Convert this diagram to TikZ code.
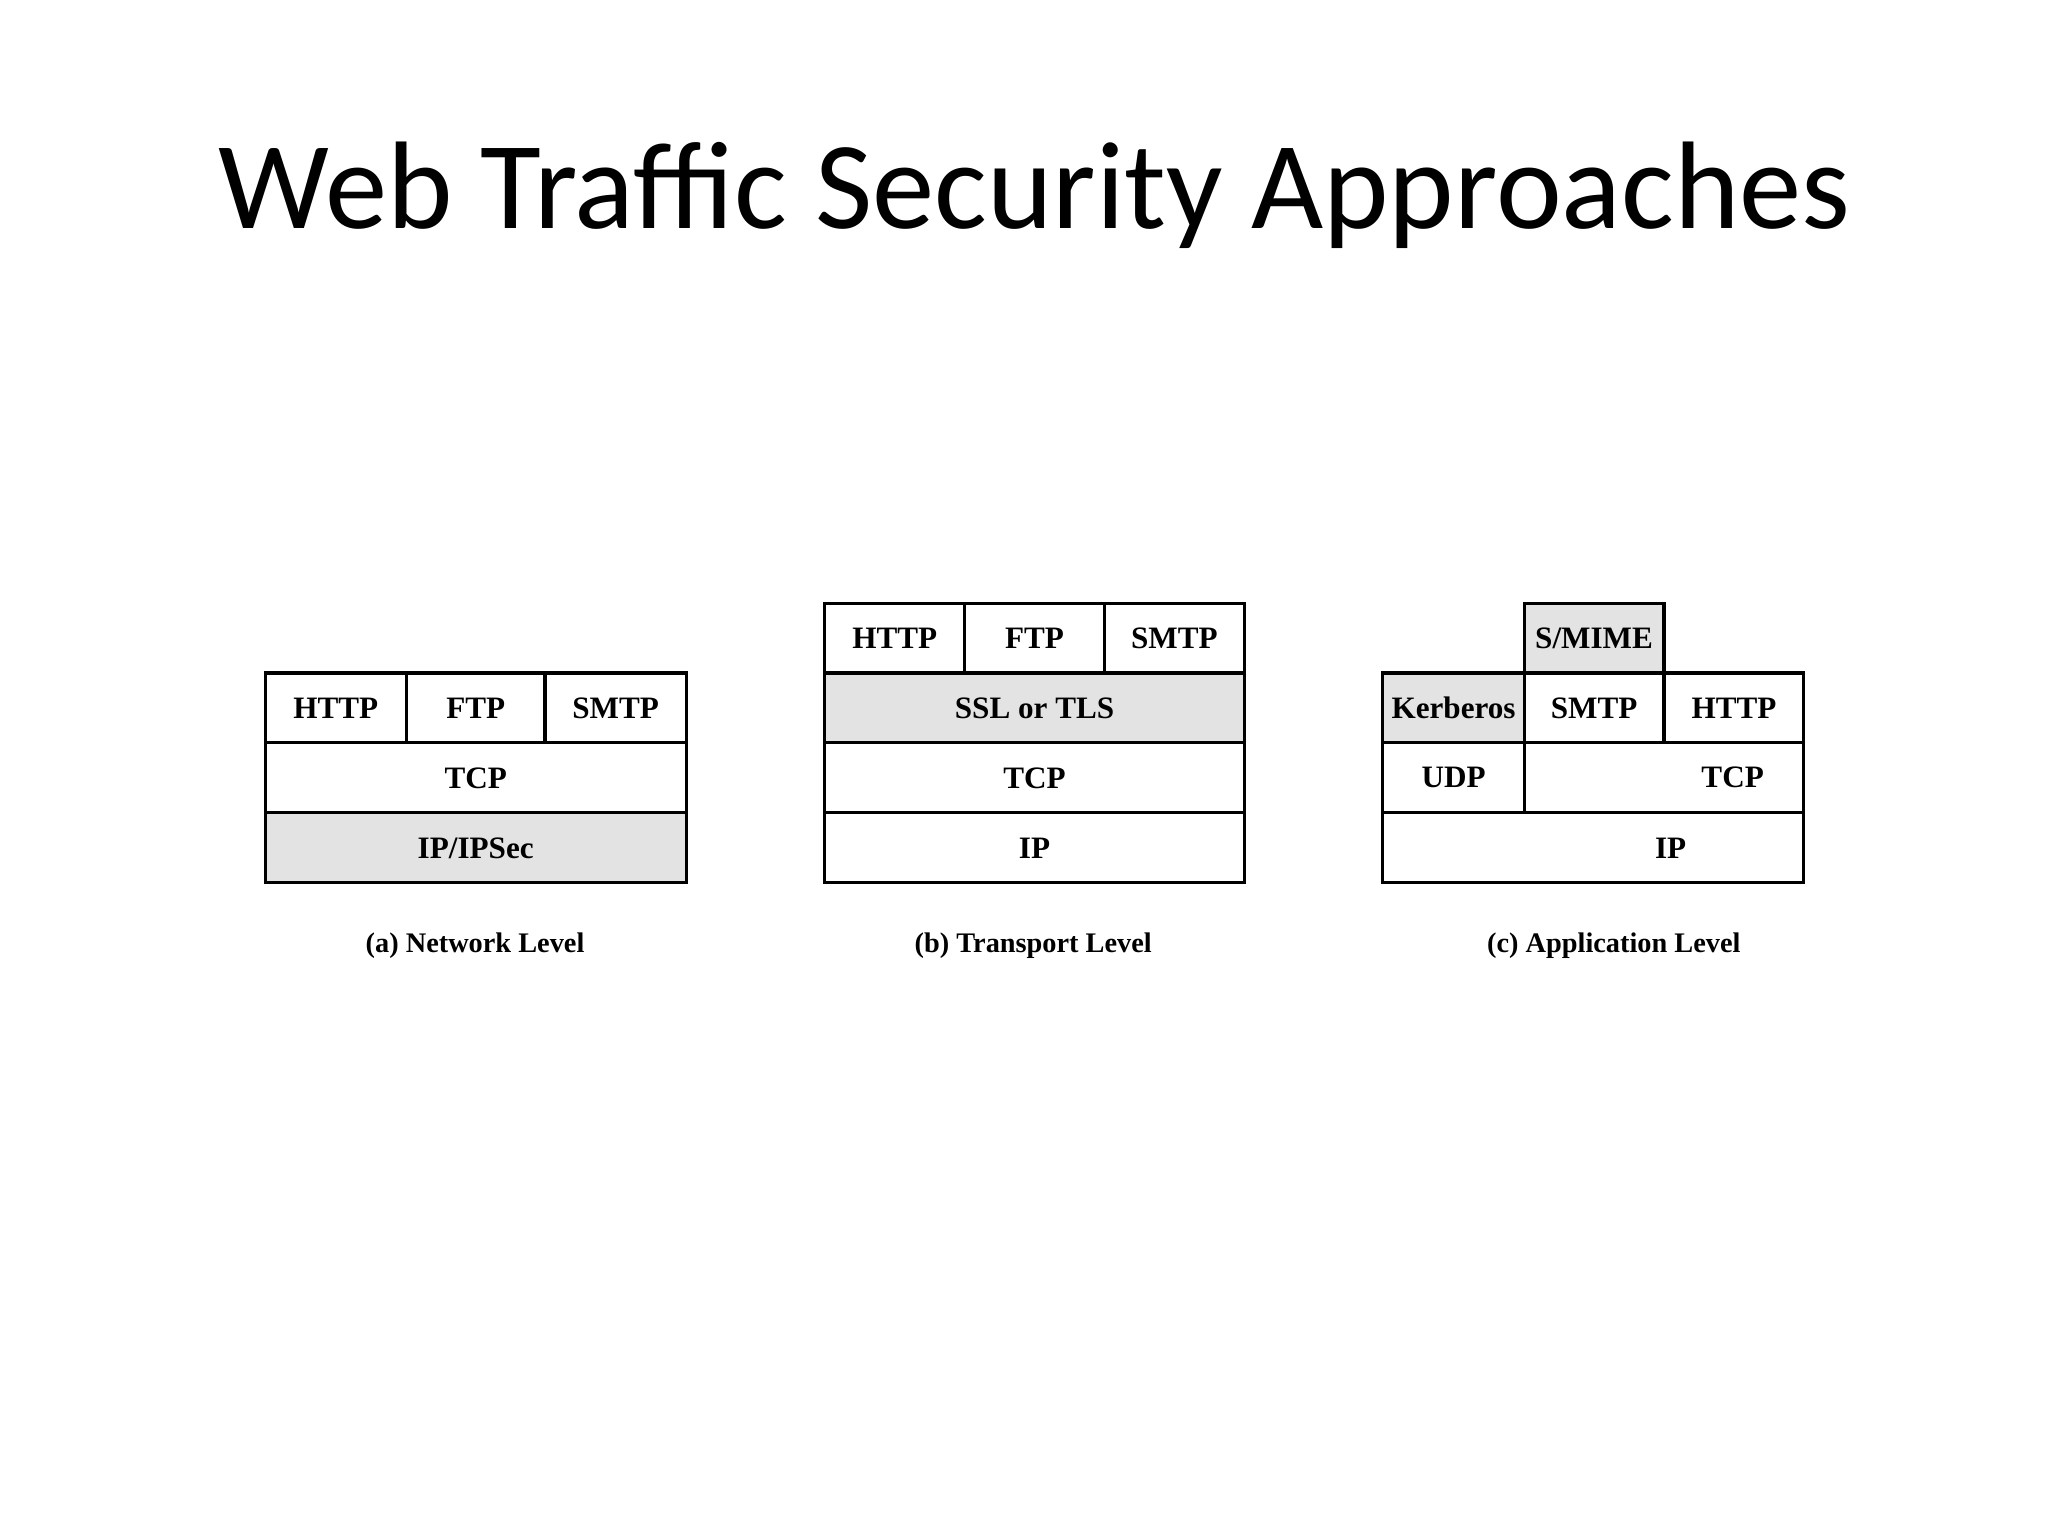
\documentclass[tikz,border=0pt]{standalone}
\usepackage{fontspec}
\setmainfont{Liberation Serif}
\newfontfamily\titlefont{Carlito}
\begin{document}
\begin{tikzpicture}[x=0.016366cm,y=-0.016366cm,
  cell/.style={draw,line width=1.1pt,rectangle,inner sep=0pt,font=\bfseries\fontsize{11}{13}\selectfont},
  gcell/.style={cell,fill=gray!22},
  captext/.style={font=\bfseries\fontsize{10}{12}\selectfont}]
\useasboundingbox (0,0) rectangle (1552,1164);
\node[font=\titlefont\fontsize{44}{50}\selectfont] (title) at (784,148) {Web Traffic Security Approaches};
\newcommand{\cellat}[7]{\node[#1,minimum width={(#4-#2)*0.016366cm},minimum height={(#5-#3)*0.016366cm}] (#6) at ({(#2+#4)/2},{(#3+#5)/2}) {#7};}
% (a)
\cellat{cell}{201}{510}{308}{563}{aH}{HTTP}
\cellat{cell}{308}{510}{413}{563}{aF}{FTP}
\cellat{cell}{413}{510}{520}{563}{aS}{SMTP}
\cellat{cell}{201}{563}{520}{616}{aT}{TCP}
\cellat{gcell}{201}{616}{520}{669}{aI}{IP/IPSec}
\node[captext] (capa) at (360,717) {(a) Network Level};
% (b)
\cellat{cell}{625}{457}{731}{510}{bH}{HTTP}
\cellat{cell}{731}{457}{837}{510}{bF}{FTP}
\cellat{cell}{837}{457}{943}{510}{bS}{SMTP}
\cellat{gcell}{625}{510}{943}{563}{bL}{SSL or TLS}
\cellat{cell}{625}{563}{943}{616}{bT}{TCP}
\cellat{cell}{625}{616}{943}{669}{bI}{IP}
\node[captext] (capb) at (783,717) {(b) Transport Level};
% (c)
\cellat{gcell}{1155}{457}{1261}{510}{cM}{S/MIME}
\cellat{gcell}{1048}{510}{1155}{563}{cK}{Kerberos}
\cellat{cell}{1155}{510}{1261}{563}{cS}{SMTP}
\cellat{cell}{1261}{510}{1367}{563}{cH}{HTTP}
\cellat{cell}{1048}{563}{1155}{616}{cU}{UDP}
\cellat{cell}{1155}{563}{1367}{616}{cT}{}
\node[font=\bfseries\fontsize{11}{13}\selectfont] (cTl) at (1313,589) {TCP};
\cellat{cell}{1048}{616}{1367}{669}{cI}{}
\node[font=\bfseries\fontsize{11}{13}\selectfont] (cIl) at (1266,643) {IP};
\node[captext] (capc) at (1223,717) {(c) Application Level};
\end{tikzpicture}
\end{document}
